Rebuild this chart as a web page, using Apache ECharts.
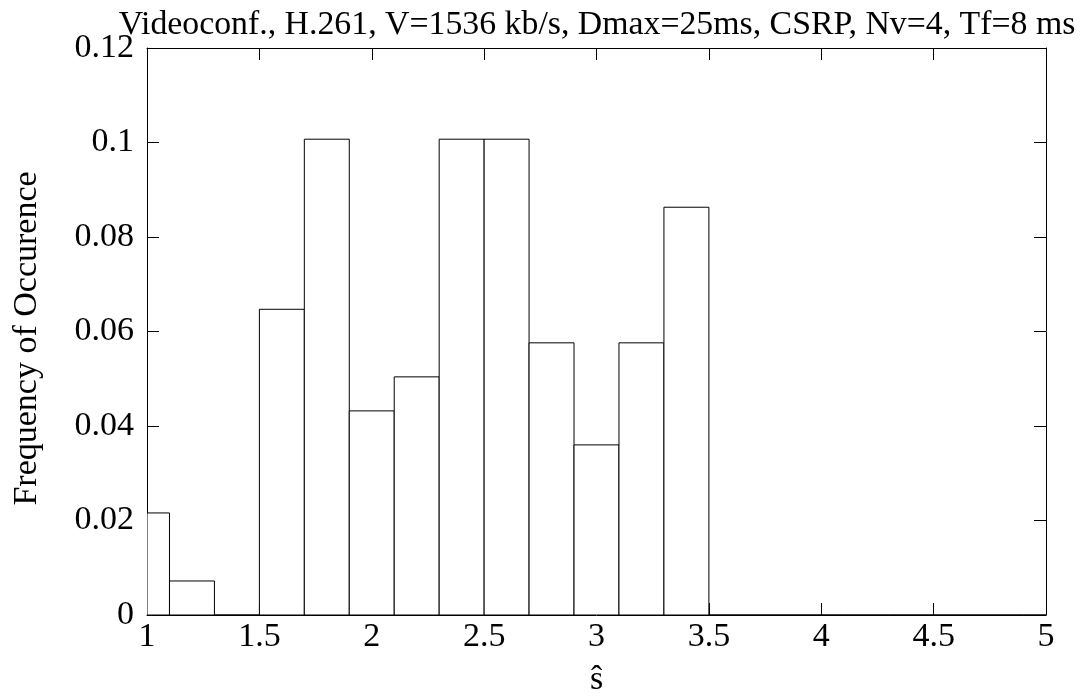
<!DOCTYPE html>
<html>
<head>
<meta charset="utf-8">
<script src="https://cdn.jsdelivr.net/npm/echarts@6/dist/echarts.min.js"></script>
<style>
  html, body { margin: 0; padding: 0; background: #fff; }
  #chart { width: 1081px; height: 696px; }
</style>
</head>
<body>
<div id="chart"></div>
<script>
// ---- data ----
const chartTitle = 'Videoconf., H.261, V=1536 kb/s, Dmax=25ms, CSRP, Nv=4, Tf=8 ms';
const xAxisName = 'ŝ';
const yAxisName = 'Frequency of Occurence';
const binWidth = 0.2;
const binCenters = [1.0, 1.2, 1.4, 1.6, 1.8, 2.0, 2.2, 2.4, 2.6, 2.8, 3.0, 3.2, 3.4,
                    3.6, 3.8, 4.0, 4.2, 4.4, 4.6, 4.8, 5.0];
const frequency  = [0.0216, 0.0072, 0, 0.0647, 0.1007, 0.0432, 0.0504, 0.1007, 0.1007, 0.0576, 0.036, 0.0576, 0.0863,
                    0, 0, 0, 0, 0, 0, 0, 0];
const xMin = 1, xMax = 5, xInterval = 0.5;
const yMin = 0, yMax = 0.12, yInterval = 0.02;

// ---- chart ----
const FONT = '"Liberation Serif", "Times New Roman", serif';
const FS = 34;
const chart = echarts.init(document.getElementById('chart'), null, { renderer: 'canvas' });

const histData = binCenters.map((c, i) => [c - binWidth / 2, c + binWidth / 2, frequency[i]]);

const axisCommon = {
  type: 'value',
  axisLine: { show: true, onZero: false, lineStyle: { color: '#000', width: 1 } },
  axisTick: { show: true, inside: true, length: 12, lineStyle: { color: '#000', width: 1 } },
  splitLine: { show: false },
  minorTick: { show: false }
};
const labelCommon = { color: '#000', fontSize: FS, fontFamily: FONT };

const option = {
  animation: false,
  backgroundColor: '#fff',
  title: {
    text: chartTitle,
    left: 592,
    textAlign: 'center',
    top: 3,
    textStyle: { color: '#000', fontSize: 33.8, fontWeight: 'normal', fontFamily: FONT }
  },
  grid: { left: 147, right: 35, top: 48, bottom: 81, containLabel: false, outerBoundsMode: 'none' },
  xAxis: [
    Object.assign({}, axisCommon, {
      position: 'bottom', min: xMin, max: xMax, interval: xInterval,
      axisLabel: Object.assign({ margin: 5 }, labelCommon),
      name: xAxisName, nameLocation: 'middle', nameGap: 48,
      nameTextStyle: { color: '#000', fontSize: FS, fontFamily: FONT }
    }),
    Object.assign({}, axisCommon, {
      position: 'top', min: xMin, max: xMax, interval: xInterval,
      axisLabel: { show: false }
    })
  ],
  yAxis: [
    Object.assign({}, axisCommon, {
      position: 'left', min: yMin, max: yMax, interval: yInterval,
      axisLabel: Object.assign({ margin: 13 }, labelCommon),
      name: yAxisName, nameLocation: 'middle', nameGap: 103, nameRotate: 90,
      nameTextStyle: { color: '#000', fontSize: FS, fontFamily: FONT, padding: [0, 14, 0, 0] }
    }),
    Object.assign({}, axisCommon, {
      position: 'right', min: yMin, max: yMax, interval: yInterval,
      axisLabel: { show: false }
    })
  ],
  series: [{
    type: 'custom',
    clip: true,
    xAxisIndex: 0,
    yAxisIndex: 0,
    data: histData,
    encode: { x: [0, 1], y: 2 },
    renderItem: function (params, api) {
      const p0 = api.coord([api.value(0), api.value(2)]);
      const p1 = api.coord([api.value(1), 0]);
      const rect = {
        x: p0[0], y: p0[1],
        width: p1[0] - p0[0], height: p1[1] - p0[1]
      };
      const clipped = echarts.graphic.clipRectByRect(rect, {
        x: params.coordSys.x, y: params.coordSys.y,
        width: params.coordSys.width, height: params.coordSys.height
      });
      if (!clipped) return null;
      return {
        type: 'rect',
        shape: clipped,
        style: { fill: '#fff', stroke: '#000', lineWidth: 1 }
      };
    }
  }]
};
chart.setOption(option);
</script>
</body>
</html>
